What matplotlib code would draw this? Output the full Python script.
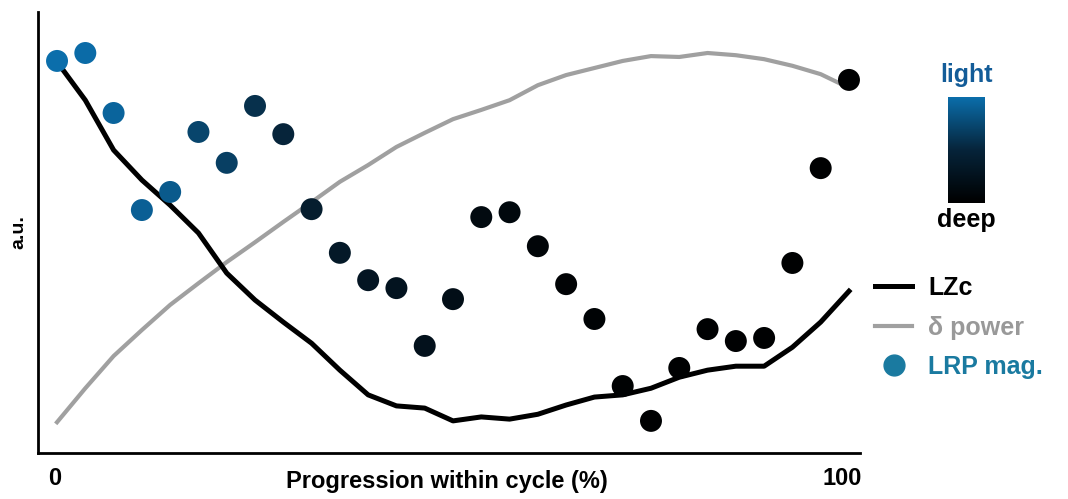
import matplotlib.pyplot as plt
import numpy as np
from matplotlib.colors import LinearSegmentedColormap
from matplotlib.lines import Line2D
from matplotlib.transforms import ScaledTranslation

# progression within cycle (%), 29 samples
progress = np.linspace(0, 100, 29)

# LRP magnitude (a.u.) and lightness of sleep (1 = light, 0 = deep)
lrp_mag = [88.9, 90.7, 77.1, 55.1, 59.2, 72.8, 65.8, 78.7, 72.3, 55.3,
           45.4, 39.2, 37.4, 24.3, 34.9, 53.5, 54.6, 46.9, 38.3, 30.4,
           15.2, 7.3, 19.3, 28.1, 25.4, 26.1, 43.1, 64.6, 84.6]
lightness = [1.0, 0.98, 0.93, 0.9, 0.86, 0.72, 0.68, 0.58, 0.5, 0.4,
             0.34, 0.3, 0.27, 0.24, 0.2, 0.14, 0.11, 0.07, 0.05, 0.04,
             0.03, 0.02, 0.02, 0.02, 0.02, 0.02, 0.02, 0.02, 0.02]

lzc = [88.7, 80.0, 68.7, 61.9, 56.2, 49.9, 40.8, 34.7, 29.7, 24.9,
       18.8, 13.2, 10.7, 10.2, 7.3, 8.2, 7.7, 8.8, 10.9, 12.7,
       13.2, 14.7, 17.2, 18.8, 19.7, 19.7, 24.0, 29.7, 36.7]

delta_power = [7.0, 14.7, 22.0, 27.9, 33.6, 38.5, 43.3, 47.8, 52.4, 56.9,
               61.5, 65.3, 69.4, 72.6, 75.7, 77.8, 80.0, 83.4, 85.7, 87.3,
               88.9, 90.0, 89.8, 90.7, 90.2, 89.3, 87.8, 85.9, 82.8]

depth_cmap = LinearSegmentedColormap.from_list('depth', ['#000000', '#06243a', '#0b6eab'])
label_font = ['Liberation Sans', 'DejaVu Sans']

fig = plt.figure(figsize=(10.68, 4.99), dpi=100)
ax = fig.add_axes([0.0356, 0.092, 0.7697, 0.884])

ax.plot(progress, delta_power, color='#a0a0a0', lw=3.0, zorder=1)
ax.plot(progress, lzc, color='black', lw=3.6, zorder=2)
ax.scatter(progress, lrp_mag, c=lightness, cmap=depth_cmap, vmin=0, vmax=1,
           s=250, edgecolors='none', zorder=3)

ax.set_xlim(-2.4, 101.4)
ax.set_ylim(0, 100)
ax.spines['top'].set_visible(False)
ax.spines['right'].set_visible(False)
ax.spines['left'].set_linewidth(2)
ax.spines['bottom'].set_linewidth(2)
ax.set_xticks([0, 100])
ax.set_xticklabels(['0', '100'], fontsize=17, fontweight='bold', family=label_font)
ax.set_yticks([])
ax.tick_params(axis='x', length=0, pad=10)
# nudge tick labels slightly left, as in the original figure
for lab, dx in zip(ax.get_xticklabels(), [-2, -7]):
    lab.set_transform(lab.get_transform() + ScaledTranslation(dx / 100, 0, fig.dpi_scale_trans))
ax.set_xlabel('Progression within cycle (%)', fontsize=17, fontweight='bold',
              family=label_font, va='top')
ax.xaxis.set_label_coords(0.4976, -0.038)
ax.set_ylabel('a.u.', fontsize=14, fontweight='bold', family=label_font, labelpad=8)

# colour bar for sleep depth
cax = fig.add_axes([948 / 1068, 1 - 203 / 499, 37 / 1068, 106 / 499])
grad = np.linspace(1, 0, 256).reshape(-1, 1)
cax.imshow(grad, aspect='auto', cmap=depth_cmap, vmin=0, vmax=1)
cax.axis('off')
fig.text(967 / 1068, 1 - 75 / 499, 'light', ha='center', va='center',
         fontsize=18, fontweight='bold', color='#135c98', family=label_font)
fig.text(966 / 1068, 1 - 220 / 499, 'deep', ha='center', va='center',
         fontsize=18, fontweight='bold', color='black', family=label_font)

handles = [Line2D([], [], color='black', lw=3.6),
           Line2D([], [], color='#a0a0a0', lw=3.0),
           Line2D([], [], color='#1a7aa0', marker='o', ls='none', markersize=15)]
leg = fig.legend(handles, ['LZc', 'δ power', 'LRP mag.'], loc='upper left',
                 bbox_to_anchor=(875 / 1068, 1 - 276 / 499), frameon=False,
                 prop={'size': 18, 'weight': 'bold', 'family': label_font},
                 borderpad=0, borderaxespad=0, handlelength=1.48,
                 labelspacing=0.62, handletextpad=0.64)
for txt, col in zip(leg.get_texts(), ['black', '#999999', '#1a7aa0']):
    txt.set_color(col)

fig.savefig('out.png', dpi=100)
